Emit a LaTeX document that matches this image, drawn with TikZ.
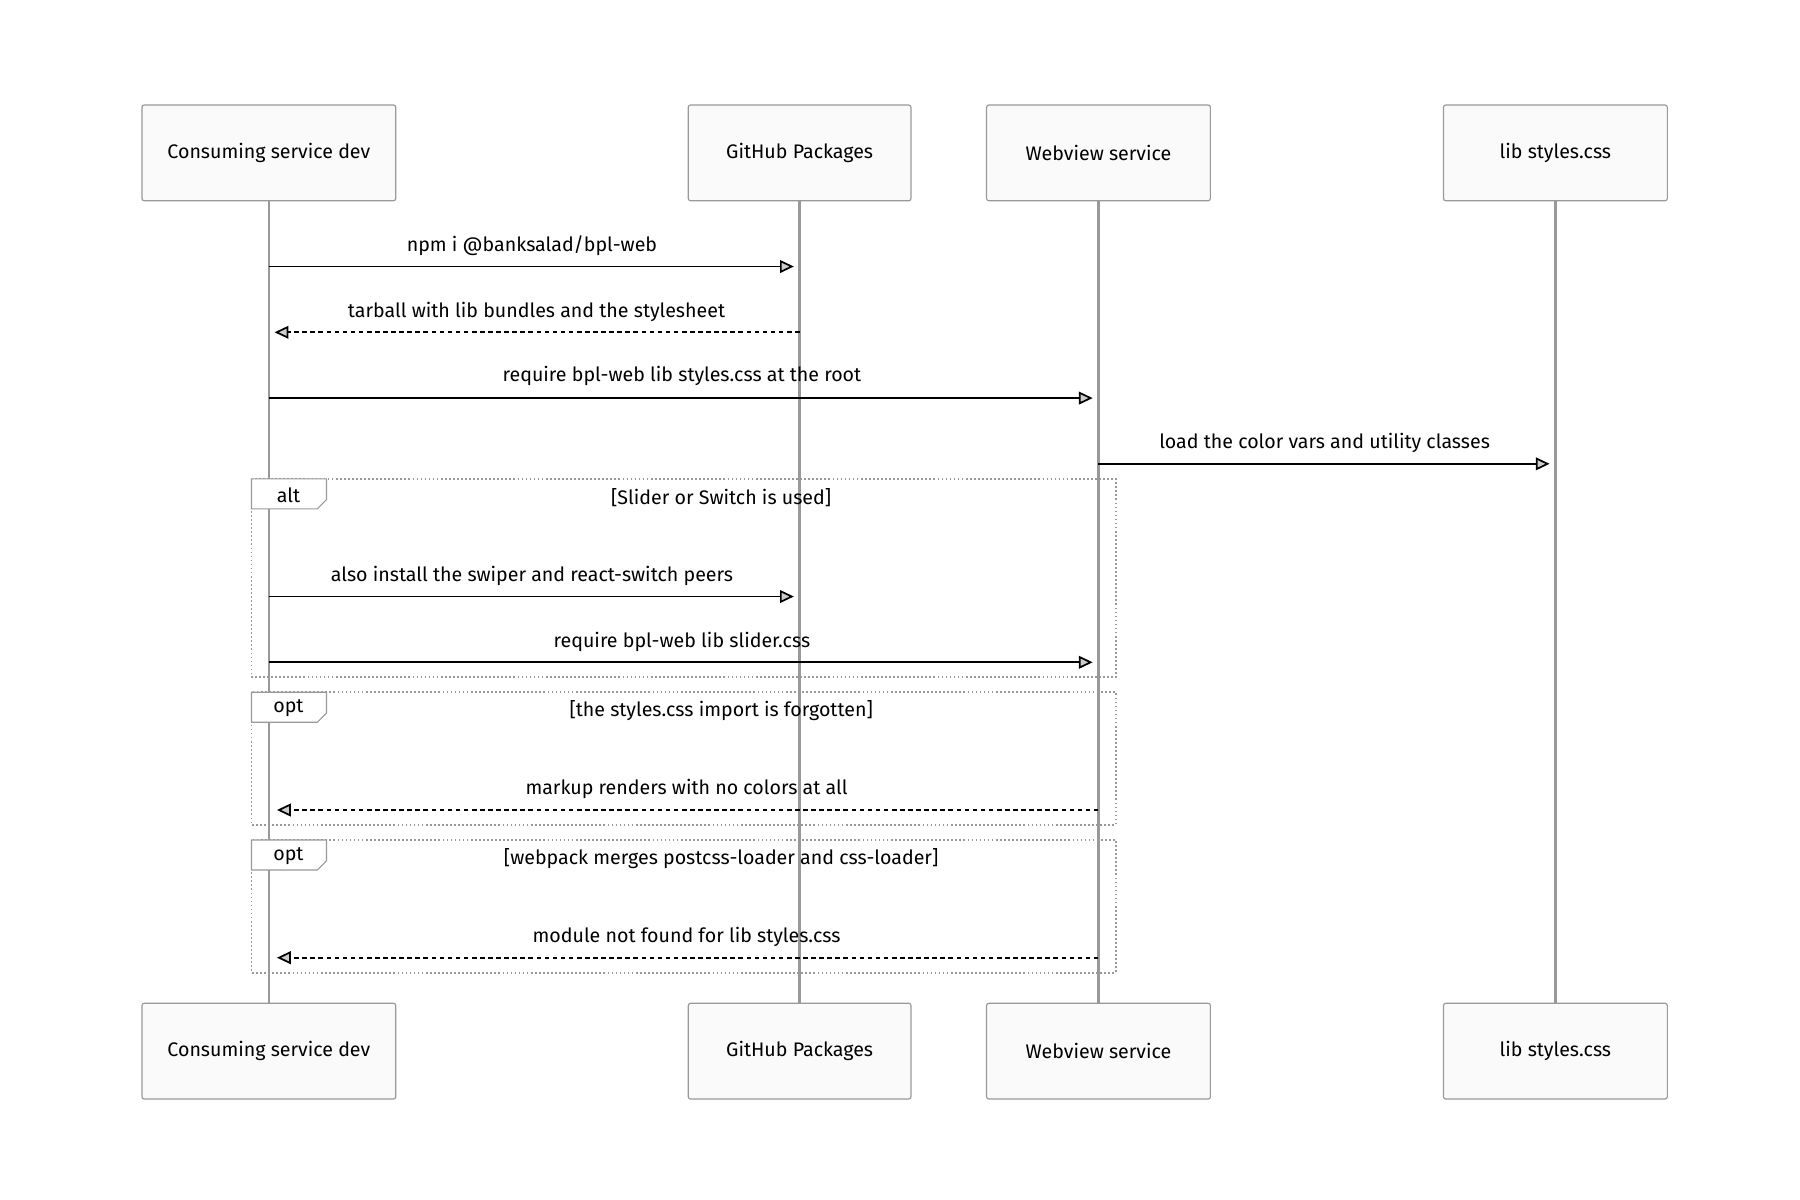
\documentclass[tikz,border=0pt]{standalone}
\usepackage{fontspec}
\setmainfont{Fira Sans}
\usetikzlibrary{arrows.meta}
\definecolor{ln}{HTML}{999999}
\definecolor{bx}{HTML}{FAFAFA}
\tikzset{
  actor/.style={draw=ln,fill=bx,line width=1pt,rounded corners=2pt,minimum height=83pt,inner sep=0pt,font=\fontsize{17}{20}\selectfont},
  life/.style={draw=ln,line width=2pt},
  msg/.style={line width=1.5pt,-{Triangle[open,length=12pt,width=11pt,fill=gray!40]}},
  reply/.style={msg,dash pattern=on 4pt off 3pt},
  lbl/.style={font=\fontsize{17}{20}\selectfont,inner sep=0pt},
  frame/.style={draw=ln,line width=1.5pt,dotted},
}
\begin{document}
\begin{tikzpicture}[x=1pt,y=-1pt]
\useasboundingbox (0,0) rectangle (1560,1040);
\foreach \n/\x/\w/\t in {a/233/220/Consuming service dev,b/693/193/GitHub Packages,c/952/194/Webview service,d/1348/194/lib styles.css}{
  \draw[life] (\x,174) -- (\x,869);
  \node[actor,minimum width=\w pt] (\n t) at (\x,132.5) {\t};
  \node[actor,minimum width=\w pt] (\n b) at (\x,911) {\t};
}
% frames
\draw[frame] (218,415) rectangle (967,587);
\draw[frame] (218,600) rectangle (967,715);
\draw[frame] (218,728) rectangle (967,843);
\foreach \y/\t in {415/alt,600/opt,728/opt}{
  \draw[draw=ln,fill=white,line width=1pt] (218,\y) -- (283,\y) -- (283,\y+18) -- (275,\y+26) -- (218,\y+26) -- cycle;
  \node[lbl] at (250,\y+14) {\t};
}
\node[lbl] at (625,431) {[Slider or Switch is used]};
\node[lbl] at (625,616) {[the styles.css import is forgotten]};
\node[lbl] at (625,744) {[webpack merges postcss-loader and css-loader]};
% messages
\coordinate (m1s) at (233,231); \coordinate (m1e) at (688,231);
\draw[msg] (m1s) -- (m1e); \node[lbl] at (461,213) {npm i @banksalad/bpl-web};
\coordinate (m2s) at (693,288); \coordinate (m2e) at (238,288);
\draw[reply] (m2s) -- (m2e); \node[lbl] at (465,270) {tarball with lib bundles and the stylesheet};
\coordinate (m3s) at (233,345); \coordinate (m3e) at (947,345);
\draw[msg] (m3s) -- (m3e); \node[lbl] at (591,326) {require bpl-web lib styles.css at the root};
\coordinate (m4s) at (952,402); \coordinate (m4e) at (1343,402);
\draw[msg] (m4s) -- (m4e); \node[lbl] at (1148,384) {load the color vars and utility classes};
\coordinate (m5s) at (233,517); \coordinate (m5e) at (688,517);
\draw[msg] (m5s) -- (m5e); \node[lbl] at (461,499) {also install the swiper and react-switch peers};
\coordinate (m6s) at (233,574); \coordinate (m6e) at (947,574);
\draw[msg] (m6s) -- (m6e); \node[lbl] at (591,556) {require bpl-web lib slider.css};
\coordinate (m7s) at (952,702); \coordinate (m7e) at (240,702);
\draw[reply] (m7s) -- (m7e); \node[lbl] at (595,684) {markup renders with no colors at all};
\coordinate (m8s) at (952,830); \coordinate (m8e) at (240,830);
\draw[reply] (m8s) -- (m8e); \node[lbl] at (595,812) {module not found for lib styles.css};
\end{tikzpicture}
\end{document}
